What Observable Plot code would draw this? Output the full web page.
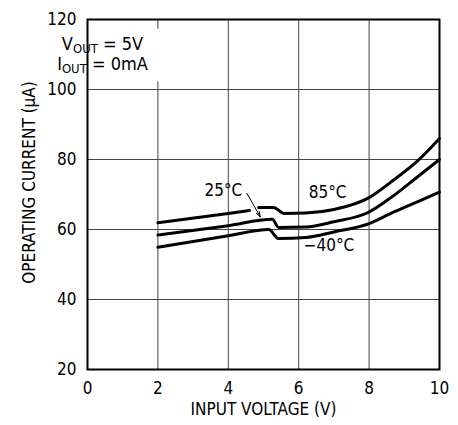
<!DOCTYPE html>
<html><head><meta charset="utf-8">
<script src="https://cdn.jsdelivr.net/npm/d3@7"></script>
<script src="https://cdn.jsdelivr.net/npm/@observablehq/plot@0.6"></script>
<style>
body{margin:0;background:#fff;}
#chart svg{display:block;}
</style></head><body><div id="chart"></div>
<script>
// ---- data ----
const t85_x = [2.0, 4.0, 4.6, 4.75, 4.86, 5.29, 5.58, 6.2, 7.0, 8.0, 8.6, 9.4, 10.0];
const t85_y = [61.9, 64.6, 65.4, null, 66.3, 66.3, 64.6, 64.7, 65.7, 69.1, 73.4, 79.8, 86.0];
const t25_x = [2.0, 4.0, 5.25, 5.43, 6.2, 7.0, 8.0, 8.62, 9.37, 10.0];
const t25_y = [58.4, 61.1, 62.9, 60.6, 60.7, 62.2, 65.0, 69.1, 75.0, 80.0];
const tm40_x = [2.0, 4.0, 5.15, 5.43, 6.2, 7.0, 8.0, 8.62, 9.37, 10.0];
const tm40_y = [54.9, 58.2, 60.0, 57.4, 57.7, 59.3, 61.7, 64.6, 67.9, 70.7];

const xTicks = [0, 2, 4, 6, 8, 10];
const yTicks = [20, 40, 60, 80, 100, 120];
const xGrid = [2, 4, 6, 8];
const yGrid = [40, 60, 80, 100];

const curveLabels = ["25°C", "85°C", "−40°C"];
const curveLabelX = [3.86, 6.82, 6.86];
const curveLabelY = [71.1, 70.7, 55.4];

const arrowFrom = [4.53, 70.3];
const arrowTo = [4.91, 63.6];

const xTitle = "INPUT VOLTAGE (V)";
const yTitle = "OPERATING CURRENT (μA)";

const noteMain = ["V", "I"];
const noteSub = ["OUT", "OUT"];
const noteTail = [" = 5V", " = 0mA"];
const noteX = 0.44;
const noteY = [111.2, 105.5];
const noteBox = {x1: 0.2, x2: 3.1, y1: 102.2, y2: 117.2};

// ---- build ----
const FONT = '"Liberation Sans Narrow", "DejaVu Sans Condensed", "Arial Narrow", sans-serif';
const FS = 17;
const series = [
  {name: "85°C", xs: t85_x, ys: t85_y},
  {name: "25°C", xs: t25_x, ys: t25_y},
  {name: "-40°C", xs: tm40_x, ys: tm40_y}
];
const pts = series.flatMap(s => s.xs.map((x, i) => ({s: s.name, x, y: s.ys[i]})));
const labels = curveLabels.map((t, i) => ({t, x: curveLabelX[i], y: curveLabelY[i]}));

const plot = Plot.plot({
  width: 458, height: 425,
  marginLeft: 87, marginRight: 19, marginTop: 19, marginBottom: 56,
  style: {fontFamily: FONT, fontSize: FS + "px", background: "white", color: "black"},
  x: {domain: [0, 10]},
  y: {domain: [20, 120]},
  marks: [
    Plot.ruleX(xGrid, {stroke: "#444", strokeWidth: 1}),
    Plot.ruleY(yGrid, {stroke: "#444", strokeWidth: 1}),
    Plot.rect([noteBox], {x1: "x1", x2: "x2", y1: "y1", y2: "y2", fill: "white"}),
    Plot.line(pts, {x: "x", y: "y", z: "s", stroke: "black", strokeWidth: 3, curve: "monotone-x"}),
    Plot.axisX(xTicks, {tickSize: 0, tickPadding: 12, label: null, fontSize: FS}),
    Plot.axisY(yTicks, {tickSize: 0, tickPadding: 11, label: null, fontSize: FS}),
    Plot.frame({stroke: "black", strokeWidth: 2}),
    Plot.text(labels, {x: "x", y: "y", text: "t", fontSize: FS, fill: "black"}),
    Plot.arrow([0], {x1: () => arrowFrom[0], y1: () => arrowFrom[1], x2: () => arrowTo[0], y2: () => arrowTo[1],
      stroke: "black", strokeWidth: 1, headLength: 8, headAngle: 35}),
    Plot.text([xTitle], {frameAnchor: "bottom", dy: 45, text: d => d, fontSize: FS, fill: "black"}),
    Plot.text([yTitle], {frameAnchor: "left", textAnchor: "middle", rotate: -90, dx: -58, dy: -12, text: d => d, fontSize: FS, fill: "black"})
  ]
});
document.getElementById("chart").appendChild(plot);

// subscript annotation, positioned through the plot's scales
const sx = plot.scale("x"), sy = plot.scale("y");
const svg = d3.select(plot.tagName.toLowerCase() === "svg" ? plot : plot.querySelector("svg"));
noteMain.forEach((m, i) => {
  const t = svg.append("text")
    .attr("x", sx.apply(noteX)).attr("y", sy.apply(noteY[i]))
    .attr("font-family", FONT).attr("font-size", 18).attr("fill", "black");
  t.append("tspan").text(m);
  t.append("tspan").attr("dy", 3).attr("font-size", 13).text(noteSub[i]);
  t.append("tspan").attr("dy", -3).text(noteTail[i]);
});
</script></body></html>
